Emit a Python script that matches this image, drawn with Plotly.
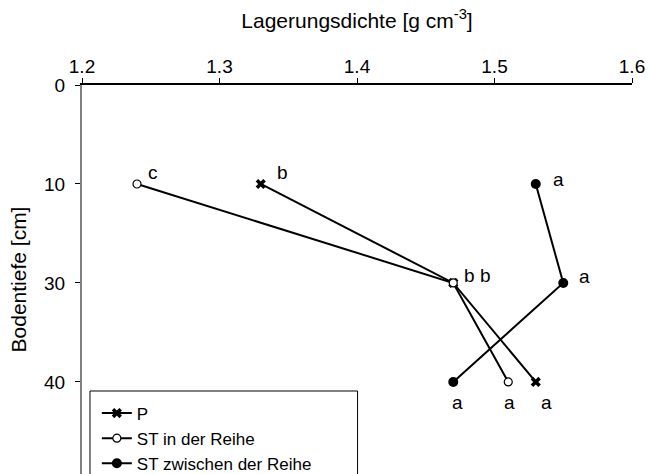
import plotly.graph_objects as go

# depth axis labels (cm) and the depths that were sampled
depth_ticks = ["0", "10", "30", "40"]
depths = ["10", "30", "40"]

# bulk density [g cm-3] per treatment
p_vals = [1.33, 1.47, 1.53]
st_in_vals = [1.24, 1.47, 1.51]
st_zw_vals = [1.53, 1.55, 1.47]

# significance letters
p_letters = ["b", "b", "a"]
st_in_letters = ["c", "b", "a"]
st_zw_letters = ["a", "a", "a"]

font = "Liberation Sans, Arial, sans-serif"

# depths sit on evenly spaced slots, like the original sheet
y_pos = [depth_ticks.index(d) for d in depths]

fig = go.Figure()
fig.add_trace(go.Scatter(
    x=p_vals, y=y_pos, name="P", mode="lines+markers",
    line=dict(color="black", width=2),
    marker=dict(symbol="x", size=9, color="black", line=dict(width=0))
))
fig.add_trace(go.Scatter(
    x=st_in_vals, y=y_pos, name="ST in der Reihe", mode="lines+markers",
    line=dict(color="black", width=2),
    marker=dict(symbol="circle", size=8, color="white", line=dict(color="black", width=1.2))
))
fig.add_trace(go.Scatter(
    x=st_zw_vals, y=y_pos, name="ST zwischen der Reihe", mode="lines+markers",
    line=dict(color="black", width=2),
    marker=dict(symbol="circle", size=10, color="black")
))

# letter offsets (px) next to each point
p_off = [(22, 11), (16, 7), (11, -21)]
st_in_off = [(16, 11), (32, 7), (1, -21)]
st_zw_off = [(23, 4), (21, 6), (4, -21)]

for vals, letters, offs in [(p_vals, p_letters, p_off),
                            (st_in_vals, st_in_letters, st_in_off),
                            (st_zw_vals, st_zw_letters, st_zw_off)]:
    for xv, yv, t, (dx, dy) in zip(vals, y_pos, letters, offs):
        fig.add_annotation(x=xv, y=yv, text=t, showarrow=False,
                           xshift=dx, yshift=dy, font=dict(size=19, color="black"))

# legend frame (runs off the bottom like the original)
fig.add_shape(type="rect", xref="paper", yref="paper",
              x0=0.0145, x1=0.501, y0=-0.2, y1=0.2134,
              line=dict(color="black", width=1), fillcolor="white", layer="above")

fig.update_layout(
    width=649, height=474,
    margin=dict(l=82, r=17, t=85, b=0, autoexpand=False),
    paper_bgcolor="white", plot_bgcolor="white",
    font=dict(family=font, size=19, color="black"),
    showlegend=True,
    legend=dict(x=0.027, y=0.2018, xanchor="left", yanchor="top",
                bgcolor="rgba(0,0,0,0)", borderwidth=0, font=dict(size=17)),
    xaxis=dict(
        side="top", range=[1.2, 1.6], tickvals=[1.2, 1.3, 1.4, 1.5, 1.6],
        ticks="outside", ticklen=5, tickcolor="black", showgrid=False, zeroline=False,
        showline=True, linecolor="black", linewidth=1.5, ticklabelstandoff=-2,
        title=dict(text="Lagerungsdichte [g cm<sup>-3</sup>]", font=dict(size=21), standoff=21),
        tickfont=dict(size=19),
    ),
    yaxis=dict(
        range=[3.93, 0], tickvals=list(range(len(depth_ticks))), ticktext=depth_ticks,
        ticks="outside", ticklen=5, tickcolor="black", ticklabelstandoff=6,
        showgrid=False, zeroline=False, showline=True, linecolor="#808080", linewidth=2,
        title=dict(text="Bodentiefe [cm]", font=dict(size=21), standoff=12),
        tickfont=dict(size=19),
    ),
)

# drop the default page margin so the figure fills the window exactly
fig.write_html("out.html", config={"displayModeBar": False},
               post_script="document.body.style.margin='0';document.body.style.overflow='hidden';")
